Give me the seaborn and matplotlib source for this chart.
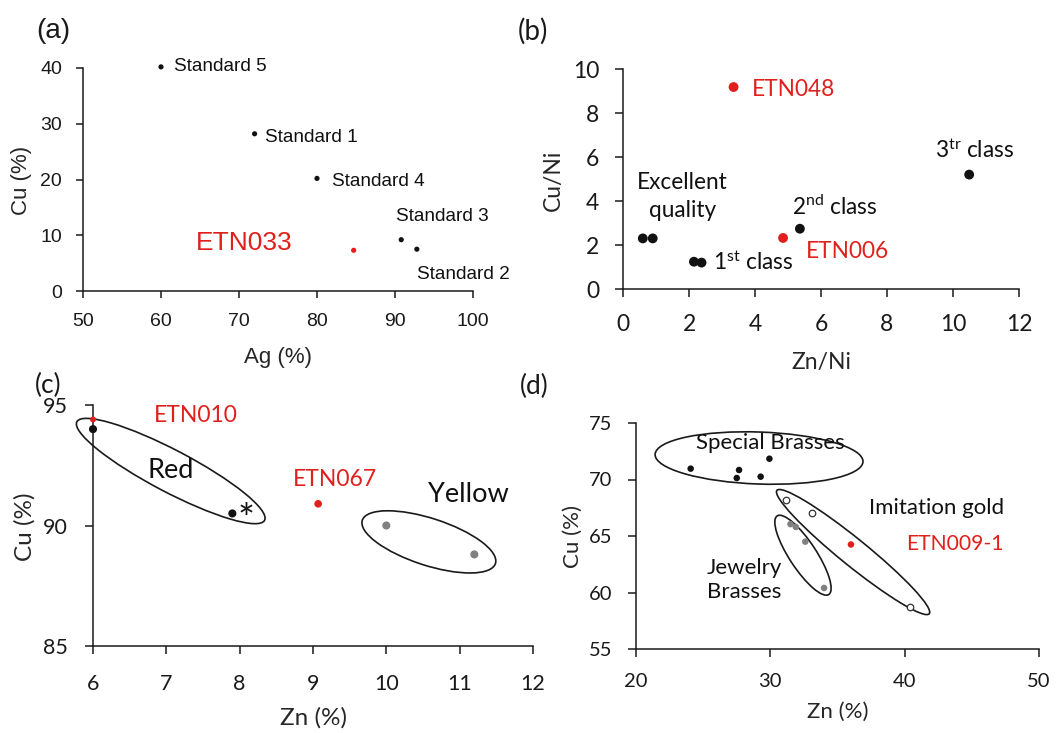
import matplotlib
matplotlib.use("Agg")
import matplotlib.pyplot as plt
import seaborn as sns
import numpy as np
import pandas as pd
from matplotlib.patches import Ellipse
from matplotlib.transforms import ScaledTranslation

# ---------------- data ----------------
# (a) Ag vs Cu
a_std_names = ["Standard 5", "Standard 1", "Standard 4", "Standard 3", "Standard 2"]
a_std_ag = [60.0, 72.0, 80.0, 90.8, 92.8]
a_std_cu = [40.2, 28.2, 20.2, 9.2, 7.5]
a_etn_name = ["ETN033"]
a_etn_ag = [84.7]
a_etn_cu = [7.3]

# (b) Zn/Ni vs Cu/Ni
b_ref_zn_ni = [0.6, 0.9, 2.15, 2.38, 5.36, 10.49]
b_ref_cu_ni = [2.3, 2.3, 1.24, 1.2, 2.74, 5.2]
b_etn_names = ["ETN048", "ETN006"]
b_etn_zn_ni = [3.35, 4.85]
b_etn_cu_ni = [9.18, 2.32]

# (c) Zn vs Cu (red / yellow)
c_red_zn = [6.0, 7.9]
c_red_cu = [94.0, 90.5]
c_yellow_zn = [10.0, 11.2]
c_yellow_cu = [90.0, 88.8]
c_etn_names = ["ETN010", "ETN067"]
c_etn_zn = [6.0, 9.07]
c_etn_cu = [94.4, 90.9]

# (d) Zn vs Cu (brasses)
d_special_zn = [24.07, 27.5, 27.67, 29.28, 29.93]
d_special_cu = [70.96, 70.13, 70.84, 70.25, 71.84]
d_imit_zn = [31.2, 33.1, 40.4]
d_imit_cu = [68.19, 67.0, 58.74]
d_jewel_zn = [31.5, 31.9, 32.6, 34.0]
d_jewel_cu = [66.05, 65.8, 64.5, 60.4]
d_etn_names = ["ETN009-1"]
d_etn_zn = [36.0]
d_etn_cu = [64.25]

# ---------------- style ----------------
W, H, DPI = 1059, 733, 100
sns.set_style("ticks")
plt.rcParams["font.family"] = ["Lato", "DejaVu Sans"]
plt.rcParams["mathtext.fontset"] = "custom"
plt.rcParams["mathtext.rm"] = "Lato"
plt.rcParams["mathtext.it"] = "Lato:italic"
plt.rcParams["axes.linewidth"] = 1.1
plt.rcParams["axes.edgecolor"] = "#1a1a1a"
plt.rcParams["xtick.color"] = "#1a1a1a"
plt.rcParams["ytick.color"] = "#1a1a1a"
plt.rcParams["text.color"] = "#1a1a1a"

RED = "#e0201c"
GRAY = "#808080"
BLACK = "#111111"

fig = plt.figure(figsize=(W / DPI, H / DPI), dpi=DPI)
fig.patch.set_facecolor("white")

RECTS = {}


def add_ax(key, x0, x1, ytop, ybot):
    ax = fig.add_axes([x0 / W, (H - ybot) / H, (x1 - x0) / W, (ybot - ytop) / H])
    RECTS[key] = (x0, x1, ytop, ybot)
    ax.set_facecolor("white")
    return ax


def frac(key, px, py):
    x0, x1, ytop, ybot = RECTS[key]
    return (px - x0) / (x1 - x0), (ybot - py) / (ybot - ytop)


def ring(ax, cx, cy, w_px, h_px, ang):
    tr = fig.dpi_scale_trans + ScaledTranslation(cx, cy, ax.transData)
    e = Ellipse((0, 0), w_px / DPI, h_px / DPI, angle=ang, transform=tr,
                fill=False, ec="#1a1a1a", lw=1.2, clip_on=False, zorder=1)
    ax.add_artist(e)


def style_axes(ax, key, xl, yl, xlim, ylim, xticks, yticks, tick_fs, lab_fs,
               xlab_px, ylab_px, family, xpad, ypad, tlen):
    sns.despine(ax=ax)
    ax.set_xlim(*xlim)
    ax.set_ylim(*ylim)
    ax.set_xticks(xticks)
    ax.set_yticks(yticks)
    ax.tick_params(axis="x", direction="out", length=tlen, width=1.1, pad=xpad,
                   labelsize=tick_fs)
    ax.tick_params(axis="y", direction="out", length=tlen, width=1.1, pad=ypad,
                   labelsize=tick_fs)
    for lab in ax.get_xticklabels() + ax.get_yticklabels():
        lab.set_family(family)
    ax.set_xlabel(xl, fontsize=lab_fs, family=family)
    ax.set_ylabel(yl, fontsize=lab_fs, family=family)
    ax.xaxis.label.set_va("center")
    ax.yaxis.label.set_va("center")
    ax.xaxis.set_label_coords(*frac(key, *xlab_px))
    ax.yaxis.set_label_coords(*frac(key, *ylab_px))


def dots(ax, xs, ys, color, s, **kw):
    kw.setdefault("edgecolor", "none")
    kw.setdefault("linewidth", 0)
    sns.scatterplot(x=xs, y=ys, ax=ax, color=color, s=s, clip_on=False,
                    zorder=4, legend=False, **kw)


LATO = ["Lato", "DejaVu Sans"]

# ---------------- (a) ----------------
ARIAL = ["Liberation Sans", "DejaVu Sans"]
axA = add_ax("a", 83, 473, 68, 291)
dots(axA, a_std_ag, a_std_cu, BLACK, 14)
dots(axA, a_etn_ag, a_etn_cu, RED, 14)
a_lab_pos = [(61.7, 40.2), (73.3, 27.6), (81.9, 19.6), (90.1, 13.3), (92.8, 2.9)]
for name, (tx, ty) in zip(a_std_names, a_lab_pos):
    axA.text(tx, ty, name, fontsize=13.7, family=ARIAL, ha="left", va="center",
             color=BLACK, clip_on=False)
axA.text(64.5, 8.6, a_etn_name[0], fontsize=19, family=ARIAL, ha="left",
         va="center", color=RED, clip_on=False)
style_axes(axA, "a", "Ag (%)", "Cu (%)", (50, 100), (0, 40),
           [50, 60, 70, 80, 90, 100], [0, 10, 20, 30, 40], 14, 16,
           (278, 357), (22, 180), ARIAL, 11, 10, 5)

# ---------------- (b) ----------------
axB = add_ax("b", 623, 1019, 69, 289)
dots(axB, b_ref_zn_ni, b_ref_cu_ni, BLACK, 50)
dots(axB, b_etn_zn_ni, b_etn_cu_ni, RED, 50)
BFS = 16.3
axB.text(3.9, 9.05, b_etn_names[0], fontsize=BFS, ha="left", va="center", color=RED)
axB.text(5.55, 1.7, b_etn_names[1], fontsize=BFS, ha="left", va="center", color=RED)
axB.text(1.79, 4.2, "Excellent\nquality", fontsize=BFS, ha="center", va="center",
         linespacing=1.45, color=BLACK)
axB.text(2.73, 1.24, r"1$^{\mathrm{st}}$ class", fontsize=BFS, ha="left", va="center",
         color=BLACK)
axB.text(5.11, 3.74, r"2$^{\mathrm{nd}}$ class", fontsize=BFS, ha="left", va="center",
         color=BLACK)
axB.text(9.45, 6.32, r"3$^{\mathrm{tr}}$ class", fontsize=BFS, ha="left", va="center",
         color=BLACK)
style_axes(axB, "b", "Zn/Ni", "Cu/Ni", (0, 12), (0, 10),
           [0, 2, 4, 6, 8, 10, 12], [0, 2, 4, 6, 8, 10], 16.5, 16.5,
           (821, 362), (553, 180), LATO, 12, 11, 6)

# ---------------- (c) ----------------
axC = add_ax("c", 93, 533, 405, 646)
ring(axC, 7.06, 92.26, 212, 42, -27.7)
ring(axC, 10.58, 89.32, 140, 47, -18)
dots(axC, c_red_zn, c_red_cu, BLACK, 34)
dots(axC, c_yellow_zn, c_yellow_cu, GRAY, 34)
dots(axC, c_etn_zn[:1], c_etn_cu[:1], RED, 18)
dots(axC, c_etn_zn[1:], c_etn_cu[1:], RED, 30)
axC.text(6.83, 94.58, c_etn_names[0], fontsize=16.5, ha="left", va="center",
         color=RED, clip_on=False)
axC.text(8.72, 91.92, c_etn_names[1], fontsize=16.5, ha="left", va="center",
         color=RED)
axC.text(6.75, 92.3, "Red", fontsize=19.5, ha="left", va="center", color=BLACK)
axC.text(10.57, 91.27, "Yellow", fontsize=19.5, ha="left", va="center", color=BLACK)
axC.text(7.97, 89.68, "*", fontsize=29, ha="left", va="baseline", color=BLACK)
style_axes(axC, "c", "Zn (%)", "Cu (%)", (6, 12), (85, 95),
           [6, 7, 8, 9, 10, 11, 12], [85, 90, 95], 15.5, 17.5,
           (313, 718), (25, 527), LATO, 14, 12, 6)

# ---------------- (d) ----------------
axD = add_ax("d", 636, 1039, 423, 649)
ring(axD, 29.16, 71.9, 208, 52, -2)
ring(axD, 36.16, 63.58, 196, 27, -39)
ring(axD, 32.43, 63.3, 94, 27, -56.7)
dots(axD, d_special_zn, d_special_cu, BLACK, 22)
dots(axD, d_imit_zn, d_imit_cu, "white", 22, edgecolor="#333333", linewidth=0.9)
dots(axD, d_jewel_zn, d_jewel_cu, GRAY, 22)
dots(axD, d_etn_zn, d_etn_cu, RED, 22)
DFS = 16
axD.text(24.47, 73.26, "Special Brasses", fontsize=DFS, ha="left", va="center",
         color=BLACK)
axD.text(37.37, 67.5, "Imitation gold", fontsize=DFS, ha="left", va="center",
         color=BLACK)
axD.text(40.1, 64.3, d_etn_names[0], fontsize=15.2, ha="left", va="center", color=RED)
axD.text(25.3, 61.1, "Jewelry\nBrasses", fontsize=DFS, ha="left", va="center",
         linespacing=1.3, color=BLACK)
style_axes(axD, "d", "Zn (%)", "Cu (%)", (20, 50), (55, 75),
           [20, 30, 40, 50], [55, 60, 65, 70, 75], 14.5, 16,
           (838, 712), (573, 537), LATO, 11, 11, 6)

# ---------------- panel tags ----------------
fig.text(36 / W, 1 - 31 / H, "(a)", fontsize=20, family=ARIAL, ha="left", va="center")
fig.text(518 / W, 1 - 31 / H, "(b)", fontsize=20, ha="left", va="center")
fig.text(35 / W, 1 - 385 / H, "(c)", fontsize=19, ha="left", va="center")
fig.text(520 / W, 1 - 386 / H, "(d)", fontsize=19, ha="left", va="center")

fig.savefig("out.png", dpi=DPI, facecolor="white")
